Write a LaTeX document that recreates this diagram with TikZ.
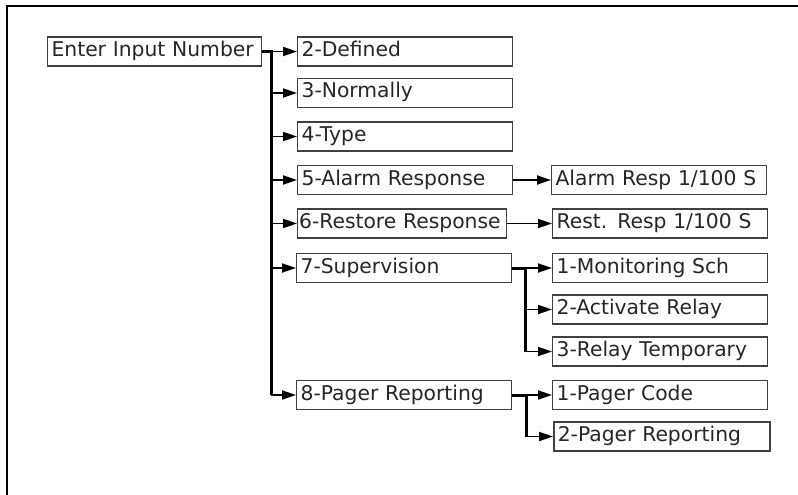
\documentclass[tikz,border=0pt]{standalone}
\usepackage{fontspec}
\setmainfont{DejaVu Sans}
\usetikzlibrary{arrows.meta,positioning,calc}

\begin{document}
\begin{tikzpicture}[
    x=1pt, y=-1pt,
    box/.style={draw=black!75, line width=1.2pt, anchor=west, minimum height=29pt, text width=#1, inner xsep=4pt, text height=14.5pt, text depth=4.5pt, align=left, font=\fontsize{20.3}{24}\selectfont, text=black!85},
    box/.default=207pt,
    arr/.style={-{Triangle[length=14pt,width=9pt]}, line width=1.8pt},
    bus/.style={line width=3pt},
]
\useasboundingbox (0,0) rectangle (798,495);

% Frame
\draw[line width=2.5pt] (7,495) -- (7,6) -- (798,6);

% Input
\node[box=206pt] (enter) at (47,51.5) {Enter Input Number};

% Menu items
\node[box] (def) at (297,51.5) {2-Defined};
\node[box] (norm) at (297,93) {3-Normally};
\node[box] (type) at (297,136.5) {4-Type};
\node[box] (alarm) at (297,180) {5-Alarm Response};
\node[box=206pt, inner xsep=1.5pt] (restore) at (297,223.5) {6-Restore Response};
\node[box] (superv) at (296,268) {7-Supervision};
\node[box] (pager) at (296,395) {8-Pager Reporting};

% Sub items
\node[box] (alarmresp) at (551,180) {Alarm Resp 1/100 S};
\node[box] (restresp) at (552,223.5) {Rest. Resp 1/100 S};
\node[box] (monitor) at (552,268) {1-Monitoring Sch};
\node[box] (activate) at (552,309.5) {2-Activate Relay};
\node[box] (relaytmp) at (552,351.5) {3-Relay Temporary};
\node[box] (pagercode) at (552,395) {1-Pager Code};
\node[box=208pt, line width=1.6pt] (pagerrep) at (553,436.5) {2-Pager Reporting};

% Main bus
\coordinate (bus) at ($(enter.east)+(9,0)$);
\draw[bus] (enter.east) -- (bus) -- (bus |- pager.west);
\foreach \n in {def,norm,type,alarm,restore,superv,pager}
    \draw[arr] (bus |- \n.west) -- (\n.west);

% Responses
\draw[arr] (alarm.east) -- (alarmresp.west);
\draw[arr] (restore.east) -- (restresp.west);

% Supervision bus
\coordinate (sbus) at ($(superv.east)+(13,0)$);
\draw[bus] (superv.east) -- (sbus) -- (sbus |- relaytmp.west);
\foreach \n in {monitor,activate,relaytmp}
    \draw[arr] (sbus |- \n.west) -- (\n.west);

% Pager bus
\coordinate (pbus) at ($(pager.east)+(14,0)$);
\draw[bus] (pager.east) -- (pbus) -- (pbus |- pagerrep.west);
\foreach \n in {pagercode,pagerrep}
    \draw[arr] (pbus |- \n.west) -- (\n.west);
\end{tikzpicture}
\end{document}
